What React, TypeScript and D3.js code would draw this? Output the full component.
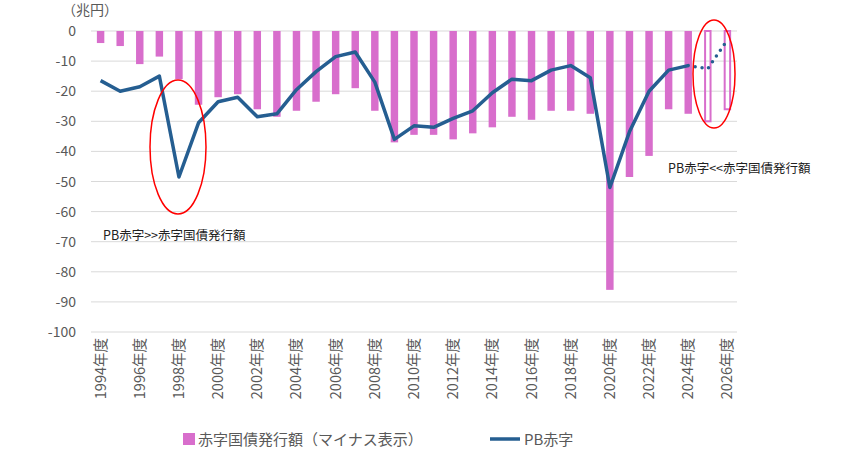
import React from 'react';
import * as d3 from 'd3';

const years = d3.range(1994, 2027);
const bondValues = [-4, -5, -11, -8.5, -16, -24.5, -22, -21, -26, -28.5, -26.5, -23.5, -21, -19, -26.5, -37, -34.5, -34.5, -36, -34, -32, -28.5, -29.5, -26.5, -26.5, -27.5, -86, -48.5, -41.5, -26, -27.5, -30, -26];
const pbValues = [-16.5, -20, -18.5, -15, -48.5, -30.5, -23.5, -22, -28.5, -27.5, -19.5, -13.5, -8.5, -7, -17, -36, -31.5, -32, -29, -26.5, -20.5, -16, -16.5, -13, -11.5, -15.5, -52, -33.5, -20, -13, -11.5];
const pbForecast = [-11.5, -12.5, -3];
const forecastYears = [2024, 2025, 2026];
const yTicks = d3.range(0, -101, -10);

const W = 850, H = 461;
const font = '"Noto Sans CJK JP", "Noto Sans", sans-serif';
const grey = '#595959';
const pink = '#d86ecc';
const blue = '#255e91';

export default function App() {
  const x = d3.scaleBand<number>().domain(years).range([91, 737]).paddingInner(0.62).paddingOuter(0.3);
  const y = d3.scaleLinear().domain([-100, 0]).range([332, 31]);
  const cx = (yr: number) => x(yr)! + x.bandwidth() / 2;
  const line = d3.line<number>().x((_, i) => cx(years[i])).y(d => y(d));
  const fline = d3.line<number>().x((_, i) => cx(forecastYears[i])).y(d => y(d));
  return (
    <svg width={W} height={H} style={{ position: 'absolute', left: 0, top: 0, background: '#fff' }} fontFamily={font}>
      {yTicks.map(t => (
        <g key={t}>
          <line x1={91} x2={737} y1={y(t)} y2={y(t)} stroke="#d9d9d9" />
          <text x={76} y={y(t) + 5} textAnchor="end" fontSize={14} fill={grey}>{t}</text>
        </g>
      ))}
      <text x={62} y={15} fontSize={14} fill={grey}>（兆円）</text>
      {bondValues.map((v, i) => {
        const hollow = years[i] >= 2025;
        return hollow ? (
          <rect key={i} x={x(years[i])! + 1} y={y(0)} width={x.bandwidth() - 2} height={y(v) - y(0)} fill="none" stroke={pink} strokeWidth={2} />
        ) : (
          <rect key={i} x={x(years[i])} y={y(0)} width={x.bandwidth()} height={y(v) - y(0)} fill={pink} />
        );
      })}
      <path d={line(pbValues)!} fill="none" stroke={blue} strokeWidth={3.5} strokeLinejoin="round" />
      <path d={fline(pbForecast)!} fill="none" stroke={blue} strokeWidth={3.5} strokeDasharray="0 7" strokeLinecap="round" />
      {years.filter(yr => yr % 2 === 0).map(yr => (
        <text key={yr} transform={`translate(${cx(yr) + 5},338) rotate(-90)`} textAnchor="end" fontSize={14.5} fill={grey}>{yr}年度</text>
      ))}
      <ellipse cx={178} cy={147} rx={28} ry={67} fill="none" stroke="#ff0000" strokeWidth={1.5} />
      <ellipse cx={714} cy={74} rx={21} ry={54} fill="none" stroke="#ff0000" strokeWidth={1.5} />
      <text x={103} y={240} fontSize={12.5} fill="#222">PB赤字&gt;&gt;赤字国債発行額</text>
      <text x={668} y={173} fontSize={12.5} fill="#222">PB赤字&lt;&lt;赤字国債発行額</text>
      <rect x={183} y={433} width={12} height={12} fill={pink} />
      <text x={198} y={445} fontSize={15} fill={grey}>赤字国債発行額（マイナス表示）</text>
      <line x1={490} x2={520} y1={439} y2={439} stroke={blue} strokeWidth={3.5} />
      <text x={524} y={445} fontSize={15} fill={grey}>PB赤字</text>
    </svg>
  );
}
